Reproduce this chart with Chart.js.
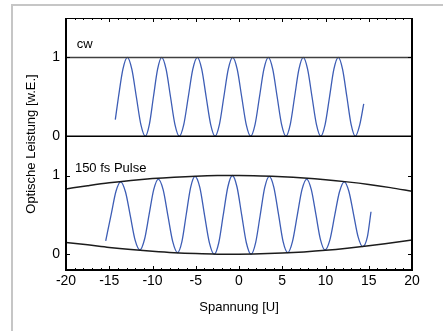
<!DOCTYPE html>
<html>
<head>
<meta charset="utf-8">
<style>
  html, body { margin: 0; padding: 0; background: #fff; }
  #wrap { position: relative; width: 443px; height: 331px; overflow: hidden; }
  #frame { position: absolute; left: 11px; top: 4px; right: -10px; bottom: -10px;
           border-top: 2px solid #c6c6c6; border-left: 2px solid #c6c6c6; }
  canvas { position: absolute; left: 0; top: 0; }
</style>
<script src="https://cdn.jsdelivr.net/npm/chart.js@4.4.1/dist/chart.umd.min.js"></script>
</head>
<body>
<div id="wrap">
  <div id="frame"></div>
  <canvas id="chart" width="443" height="331"></canvas>
</div>
<script>
// cw laser: voltage [U] vs. normalised optical power
const cwVoltage = [
  -14.30, -13.93, -13.42, -12.91,
  -12.39, -11.87, -11.35, -10.83, -10.36, -9.89, -9.41, -8.94,
  -8.43, -7.92, -7.41, -6.90, -6.38, -5.86, -5.34, -4.82,
  -4.31, -3.80, -3.28, -2.77, -2.26, -1.75, -1.24, -0.73,
  -0.21, 0.31, 0.83, 1.35, 1.86, 2.37, 2.88, 3.39,
  3.90, 4.41, 4.92, 5.43, 5.93, 6.43, 6.93, 7.43,
  7.93, 8.44, 8.95, 9.45, 9.96, 10.47, 10.97, 11.48,
  11.97, 12.47, 12.96, 13.45, 13.95, 14.42
];
const cwPower = [
  0.21, 0.5, 0.85, 1,
  0.85, 0.5, 0.15, 0, 0.15, 0.5, 0.85, 1,
  0.85, 0.5, 0.15, 0, 0.15, 0.5, 0.85, 1,
  0.85, 0.5, 0.15, 0, 0.15, 0.5, 0.85, 1,
  0.85, 0.5, 0.15, 0, 0.15, 0.5, 0.85, 1,
  0.85, 0.5, 0.15, 0, 0.15, 0.5, 0.85, 1,
  0.85, 0.5, 0.15, 0, 0.15, 0.5, 0.85, 1,
  0.85, 0.5, 0.15, 0, 0.14, 0.41
];

// 150 fs pulses
const pulseVoltage = [
  -15.41, -14.77, -14.22, -13.68,
  -13.12, -12.57, -12.01, -11.45,
  -10.92, -10.39, -9.86, -9.33,
  -8.77, -8.22, -7.66, -7.10,
  -6.60, -6.10, -5.59, -5.09,
  -4.53, -3.98, -3.42, -2.86,
  -2.34, -1.82, -1.29, -0.77,
  -0.23, 0.31, 0.85, 1.39,
  1.92, 2.45, 2.97, 3.50,
  4.03, 4.57, 5.10, 5.63,
  6.18, 6.73, 7.28, 7.83,
  8.36, 8.89, 9.41, 9.94,
  10.50, 11.06, 11.61, 12.17,
  12.70, 13.24, 13.77, 14.30,
  14.84, 15.26
];
const pulsePower = [
  0.17, 0.51, 0.80, 0.92,
  0.79, 0.49, 0.18, 0.055,
  0.19, 0.505, 0.82, 0.955,
  0.82, 0.49, 0.16, 0.02,
  0.16, 0.505, 0.85, 0.99,
  0.85, 0.495, 0.145, 0,
  0.146, 0.5, 0.854, 1,
  0.854, 0.5, 0.146, 0,
  0.145, 0.495, 0.845, 0.99,
  0.85, 0.505, 0.16, 0.02,
  0.16, 0.49, 0.82, 0.955,
  0.82, 0.505, 0.19, 0.055,
  0.18, 0.49, 0.79, 0.92,
  0.80, 0.51, 0.22, 0.097,
  0.22, 0.54
];

// upper / lower envelope of the pulse fringes
const envVoltage = [-20, -17.5, -15, -12.5, -10, -7.5, -5, -2.5, 0, 2.5, 5, 7.5, 10, 12.5, 15, 17.5, 20];
const envUpper = [0.83, 0.87, 0.907, 0.937, 0.961, 0.979, 0.992, 0.999, 1, 0.995, 0.985, 0.969, 0.947, 0.919, 0.886, 0.846, 0.80];
const envLower = [0.15, 0.12, 0.087, 0.06, 0.038, 0.02, 0.008, 0.001, 0, 0.005, 0.015, 0.03, 0.05, 0.076, 0.107, 0.143, 0.18];

// min / max level of the cw trace
const cwFloor = 0;
const cwCeiling = 1;

const xTicks = [-20, -15, -10, -5, 0, 5, 10, 15, 20];
const yTickLabels = [0, 1];
const panelLabels = ["cw", "150 fs Pulse"];

// the cw trace is stacked above the pulse trace on one y axis
const CW_OFFSET = 1.5;

const FONT = "'Liberation Sans', Arial, sans-serif";
Chart.defaults.font.family = FONT;
Chart.defaults.color = "#000";

function pts(xs, ys, offset) {
  return xs.map((x, i) => ({ x: x, y: ys[i] + (offset || 0) }));
}

const xMin = xTicks[0];
const xMax = xTicks[xTicks.length - 1];

function lineDs(data, color, width, extra) {
  return Object.assign({
    data: data,
    borderColor: color,
    borderWidth: width,
    pointRadius: 0,
    fill: false,
    cubicInterpolationMode: "monotone"
  }, extra || {});
}

// ticks pointing into the plot, frame, panel captions
const framePlugin = {
  id: "plotFrame",
  afterDatasetsDraw(chart) {
    const { ctx, chartArea: a, scales } = chart;
    const x = scales.x, y = scales.y;
    ctx.save();
    ctx.strokeStyle = "#000";
    ctx.lineWidth = 1;
    ctx.beginPath();
    for (let v = xMin; v <= xMax; v++) {
      const px = Math.round(x.getPixelForValue(v)) + 0.5;
      const len = v % 5 === 0 ? 4 : 2;
      ctx.moveTo(px, a.top); ctx.lineTo(px, a.top + len);
      ctx.moveTo(px, a.bottom); ctx.lineTo(px, a.bottom - len);
    }
    y.ticks.forEach(t => {
      const py = Math.round(y.getPixelForValue(t.value)) + 0.5;
      ctx.moveTo(a.left, py); ctx.lineTo(a.left + 4, py);
      ctx.moveTo(a.right, py); ctx.lineTo(a.right - 4, py);
    });
    ctx.stroke();

    // plot box
    ctx.lineWidth = 2;
    ctx.beginPath();
    ctx.moveTo(a.left, a.top);
    ctx.lineTo(a.left, a.bottom);
    ctx.lineTo(a.right, a.bottom);
    ctx.lineTo(a.right, a.top);
    ctx.stroke();
    ctx.lineWidth = 1;
    ctx.beginPath();
    ctx.moveTo(a.left, a.top + 0.5);
    ctx.lineTo(a.right, a.top + 0.5);
    ctx.stroke();

    ctx.fillStyle = "#000";
    ctx.font = "13px " + FONT;
    ctx.textBaseline = "alphabetic";
    ctx.textAlign = "left";
    ctx.fillText(panelLabels[0], x.getPixelForValue(-18.75), y.getPixelForValue(2.615));
    ctx.fillText(panelLabels[1], x.getPixelForValue(-18.97), y.getPixelForValue(1.048));
    ctx.restore();
  }
};

new Chart(document.getElementById("chart"), {
  type: "line",
  data: {
    datasets: [
      lineDs(pts([xMin, xMax], [cwCeiling, cwCeiling], CW_OFFSET), "#404040", 1.5),
      lineDs(pts([xMin, xMax], [cwFloor, cwFloor], CW_OFFSET), "#000", 1.5),
      lineDs(pts(cwVoltage, cwPower, CW_OFFSET), "#3d5db5", 1.3),
      lineDs(pts(envVoltage, envUpper), "#1c1c1c", 1.5),
      lineDs(pts(envVoltage, envLower), "#1c1c1c", 1.5),
      lineDs(pts(pulseVoltage, pulsePower), "#3d5db5", 1.3)
    ]
  },
  options: {
    responsive: false,
    animation: false,
    events: [],
    layout: { padding: { top: 18, right: 31, bottom: 0, left: 0 } },
    plugins: { legend: { display: false }, tooltip: { enabled: false } },
    scales: {
      x: {
        type: "linear",
        min: xMin,
        max: xMax,
        afterBuildTicks: s => { s.ticks = xTicks.map(v => ({ value: v })); },
        afterFit: s => { s.height = 61; },
        grid: { display: false, drawTicks: false },
        border: { display: false },
        ticks: { padding: 3, font: { size: 14 }, color: "#000", maxRotation: 0 },
        title: { display: true, text: "Spannung [U]", font: { size: 13 }, color: "#000", padding: { top: 0, bottom: 16 } }
      },
      y: {
        type: "linear",
        min: -0.2,
        max: 3.0,
        afterBuildTicks: s => {
          const vals = yTickLabels.concat(yTickLabels.map(v => v + CW_OFFSET));
          s.ticks = vals.map(v => ({ value: v }));
        },
        afterFit: s => { s.width = 66; },
        grid: { display: false, drawTicks: false },
        border: { display: false },
        ticks: {
          padding: 6,
          font: { size: 14 },
          color: "#000",
          callback: v => String(v >= CW_OFFSET ? Math.round((v - CW_OFFSET) * 10) / 10 : v)
        },
        title: { display: true, text: "Optische Leistung [w.E.]", font: { size: 13 }, color: "#000", padding: { top: 24, bottom: 0 } }
      }
    }
  },
  plugins: [framePlugin]
});
</script>
</body>
</html>
